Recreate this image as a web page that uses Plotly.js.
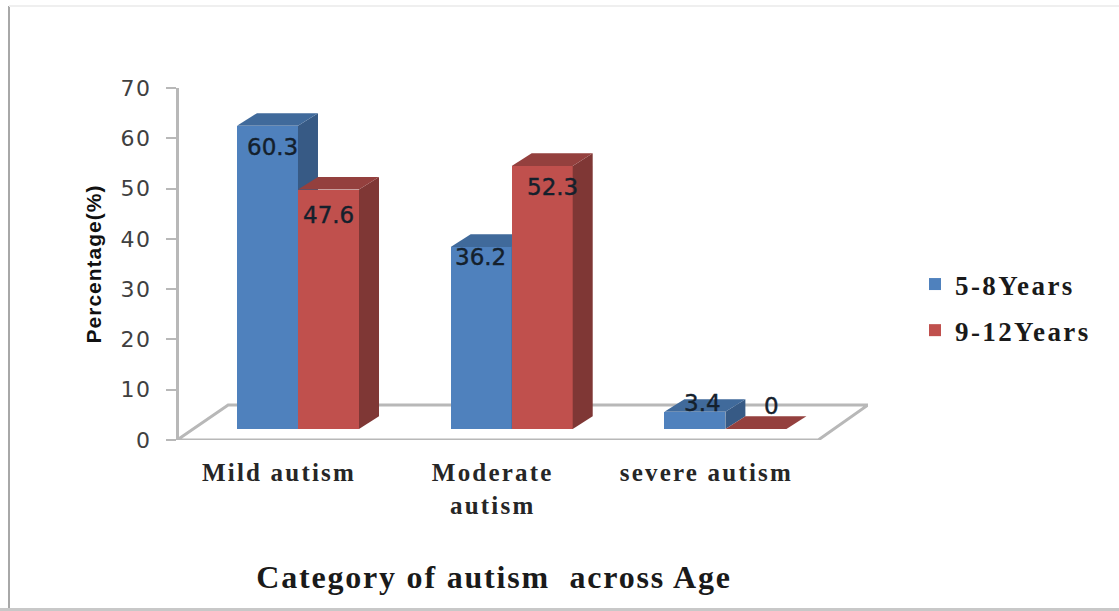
<!DOCTYPE html>
<html>
<head>
<meta charset="utf-8">
<script src="https://cdn.plot.ly/plotly-3.0.1.min.js"></script>
<style>
  html, body { margin: 0; padding: 0; background: #fff; }
  #chart { width: 1119px; height: 611px; }
  .xtick text { letter-spacing: 2.2px; }
  .legendtext { letter-spacing: 2.4px; }
  .ytick text { letter-spacing: 1.5px; }
  .g-xtitle text { letter-spacing: 1.8px; }
  .g-ytitle text { letter-spacing: 1px; }
  .annotation-text { stroke: #14202c; stroke-width: 0.4px; }
  .legendbar { scale: 1.33; }
</style>
</head>
<body>
<div id="chart"></div>
<script>
// Autism category by age group, drawn as pseudo-3D columns on a tilted floor.
const categories = ["Mild autism", "Moderate<br>autism", "severe autism"];
const seriesNames = ["5-8Years", "9-12Years"];
const youngerValues = [60.3, 36.2, 3.4];
const olderValues = [47.6, 52.3, 0];
const yTicks = [0, 10, 20, 30, 40, 50, 60, 70];

// Column geometry, in axis units.
const barWidth = 0.2855;
const barShift = 0.0655;
const floorLift = 2.2;
const depthX = 0.0936;
const depthY = 2.5;

// Pixel-based label nudges for each column's value.
const youngerNudge = [[5, -21], [-1, -10], [8, 9]];
const olderNudge = [[0, -25], [10, -21], [16, 23]];

const xRange = [-0.7674, 2.7328];
const yRange = [0, 70];
const indices = categories.map((_, i) => i);
const W = 1119, H = 611;

const colors = {
  younger: { front: "#4f81bd", top: "#406a9b", side: "#375a85" },
  older: { front: "#c0504d", top: "#94403e", side: "#7f3735" }
};

function faces(values, leftOffset, palette, xa, ya) {
  const out = [];
  const poly = (xs, ys, color) => ({
    type: "scatter", mode: "lines", x: xs, y: ys, fill: "toself",
    fillcolor: color, line: { width: 0, color: color },
    showlegend: false, hoverinfo: "skip", xaxis: xa, yaxis: ya
  });
  values.forEach((v, i) => {
    const l = i + leftOffset, r = l + barWidth, top = v + floorLift;
    if (v > 0) {
      out.push(poly([r, r + depthX, r + depthX, r, r],
                    [floorLift, floorLift + depthY, top + depthY, top, floorLift], palette.side));
    }
    out.push(poly([l, r, r + depthX, l + depthX, l],
                  [top, top, top + depthY, top + depthY, top], palette.top));
  });
  return out;
}

function frontBars(name, values, offset, color, xa, ya, group) {
  return {
    type: "bar", name: name, x: indices, y: values, legendgroup: group,
    base: values.map(() => floorLift), width: barWidth, offset: offset,
    marker: { color: color, line: { width: 0 } },
    xaxis: xa, yaxis: ya, hoverinfo: "x+y+name"
  };
}

const traces = [
  frontBars(seriesNames[0], youngerValues, barShift - barWidth, colors.younger.front, "x", "y", "a"),
  ...faces(youngerValues, barShift - barWidth, colors.younger, "x", "y"),
  // The older group sits on an overlay so it paints over the younger group's side faces.
  frontBars(seriesNames[1], olderValues, barShift, colors.older.front, "x2", "y2", "b"),
  ...faces(olderValues, barShift, colors.older, "x2", "y2")
];

function valueLabels(values, offset, nudge) {
  return values.map((v, i) => ({
    x: i + offset + barWidth / 2, y: v + floorLift, xref: "x", yref: "y",
    text: String(v), showarrow: false, xanchor: "center", yanchor: "middle",
    xshift: nudge[i][0], yshift: nudge[i][1],
    font: { family: "DejaVu Sans", size: 23, color: "#14202c" }
  }));
}

const axisGray = "#b8b8b8";
const xDomain = [120 / W, 868 / W];
const yDomain = [1 - 440 / H, 1 - 88 / H];

// Floor outline in axis units: front-left, back-left, back-right, front-right.
const floorX = [-0.5, -0.2613, 2.7328, 2.5];
const floorY = [0, 6.96, 6.96, 0];
const floorPath = floorX.map((x, i) => (i ? "L" : "M") + x + "," + floorY[i]).join(" ") + " Z";

const layout = {
  width: W, height: H,
  margin: { l: 0, r: 0, t: 0, b: 0, autoexpand: false },
  paper_bgcolor: "#ffffff", plot_bgcolor: "rgba(0,0,0,0)",
  barmode: "overlay", bargap: 0,
  xaxis: {
    domain: xDomain, range: xRange, anchor: "y", fixedrange: true,
    tickmode: "array", tickvals: indices, ticktext: categories,
    showgrid: false, zeroline: false, showline: false,
    ticks: "outside", ticklen: 10, tickcolor: "rgba(0,0,0,0)", ticklabelshift: -5,
    tickfont: { family: "Liberation Serif", size: 25, color: "#262626", weight: "bold" },
    title: {
      text: "Category of autism  across Age", standoff: 48,
      font: { family: "Liberation Serif", size: 32, color: "#1a1a1a", weight: "bold" }
    }
  },
  yaxis: {
    domain: yDomain, range: yRange, anchor: "free", position: 177 / W, fixedrange: true,
    tickmode: "array", tickvals: yTicks,
    showgrid: false, zeroline: false, showline: true, linecolor: axisGray, linewidth: 3,
    ticks: "outside", ticklen: 10, tickcolor: axisGray, tickwidth: 2, ticklabelstandoff: 10,
    tickfont: { family: "DejaVu Sans", size: 22, color: "#404040" },
    title: {
      text: "Percentage(%)", standoff: 12,
      font: { family: "Liberation Sans", size: 21, color: "#111111", weight: "bold" }
    }
  },
  xaxis2: { domain: xDomain, range: xRange, overlaying: "x", anchor: "y2", visible: false, fixedrange: true },
  yaxis2: { domain: yDomain, range: yRange, overlaying: "y", anchor: "x2", visible: false, fixedrange: true },
  shapes: [
    { type: "path", layer: "below", xref: "x", yref: "y", path: floorPath,
      fillcolor: "#ffffff", line: { color: axisGray, width: 3 } },
    // Thin picture frame around the figure.
    { type: "line", xref: "paper", yref: "paper", x0: 9 / W, x1: 9 / W, y0: 0, y1: 1 - 6 / H,
      line: { color: "#a8a8a8", width: 2 } },
    { type: "line", xref: "paper", yref: "paper", x0: 9 / W, x1: 1, y0: 1 - 6 / H, y1: 1 - 6 / H,
      line: { color: "#efefef", width: 2 } },
    { type: "line", xref: "paper", yref: "paper", x0: 0, x1: 1, y0: 1.5 / H, y1: 1.5 / H,
      line: { color: "#c8c8c8", width: 3 } }
  ],
  annotations: [
    ...valueLabels(youngerValues, barShift - barWidth, youngerNudge),
    ...valueLabels(olderValues, barShift, olderNudge)
  ],
  legend: {
    x: 915 / W, y: 1 - 260 / H, xanchor: "left", yanchor: "top",
    traceorder: "grouped", tracegroupgap: 8, itemwidth: 30, bgcolor: "rgba(0,0,0,0)",
    font: { family: "Liberation Serif", size: 27, color: "#1a1a1a", weight: "bold" }
  },
  showlegend: true
};

Plotly.newPlot("chart", traces, layout, { displayModeBar: false, staticPlot: true });
</script>
</body>
</html>
